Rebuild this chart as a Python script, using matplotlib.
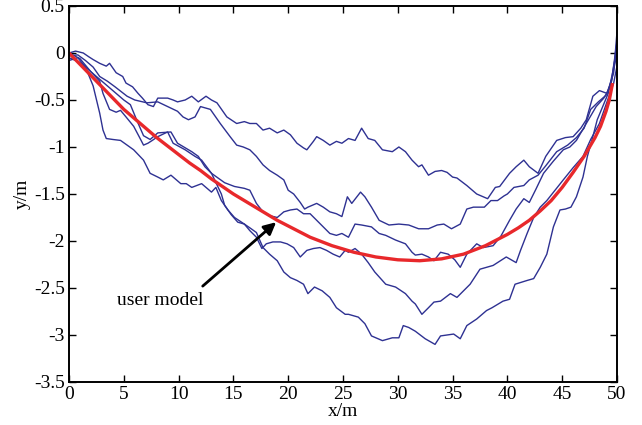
import numpy as np
import matplotlib
matplotlib.use("Agg")
import matplotlib.pyplot as plt

plt.rcParams['font.family'] = ['Liberation Serif', 'DejaVu Serif']
plt.rcParams['axes.unicode_minus'] = False

# five simulated tracks
a_x = [0, 0.6, 1.3, 1.8, 2.2, 2.8, 3.4, 3.7, 4.3, 4.9, 5.2, 5.8, 6.3, 6.7, 7.2, 7.7, 8.1, 9.0, 9.5, 9.9,
       10.6, 11.2, 11.8, 12.5, 13.0, 13.5, 14.4, 15.3, 16.0, 16.5, 17.1, 17.7, 18.3, 19.0, 19.6, 20.2,
       20.8, 21.4, 21.7, 22.3, 22.6, 23.2, 23.8, 24.4, 24.9, 25.5, 26.1, 26.7, 27.3, 27.9, 28.6, 29.5,
       30.1, 30.7, 31.3, 31.9, 32.2, 32.8, 33.4, 34.0, 34.5, 35.0, 35.4, 36.3, 37.2, 38.2, 38.9, 39.3,
       40.2, 40.8, 41.5, 42.0, 42.8, 43.5, 44.5, 45.3, 46.0, 46.7, 47.2, 47.8, 48.4, 49.1, 49.7, 50.0]
a_y = [0, 0.02, 0.0, -0.04, -0.07, -0.11, -0.14, -0.11, -0.21, -0.25, -0.32, -0.36, -0.43, -0.48, -0.55,
       -0.57, -0.48, -0.48, -0.5, -0.52, -0.5, -0.46, -0.52, -0.46, -0.5, -0.53, -0.68, -0.75, -0.73,
       -0.75, -0.75, -0.82, -0.80, -0.85, -0.82, -0.87, -0.96, -1.01, -1.03, -0.94, -0.89, -0.93, -0.98,
       -0.94, -0.96, -0.91, -0.93, -0.80, -0.91, -0.93, -1.03, -1.05, -1.00, -1.05, -1.14, -1.21, -1.19,
       -1.30, -1.26, -1.25, -1.27, -1.32, -1.33, -1.41, -1.50, -1.55, -1.43, -1.42, -1.28, -1.21, -1.14,
       -1.21, -1.28, -1.10, -0.93, -0.90, -0.89, -0.80, -0.71, -0.46, -0.40, -0.43, -0.21, 0.22]

b_x = [0, 0.8, 1.5, 2.2, 2.8, 3.5, 4.2, 5.3, 6.0, 7.1, 8.1, 9.0, 9.9, 10.4, 10.9, 11.5, 12.0, 12.9, 13.8,
       14.7, 15.3, 15.9, 16.5, 17.1, 17.7, 18.3, 19.0, 19.6, 20.0, 20.5, 21.1, 21.5, 21.8, 22.6, 23.2,
       23.8, 24.4, 24.9, 25.4, 25.8, 26.6, 27.0, 27.6, 28.3, 29.2, 30.1, 31.0, 31.9, 32.8, 33.6, 34.2,
       34.9, 35.7, 36.3, 36.9, 37.9, 38.5, 39.1, 39.7, 40.0, 40.6, 41.5, 42.0, 42.8, 43.5, 44.5, 45.5,
       46.3, 47.0, 47.6, 48.3, 49.0, 49.5, 50.0]
b_y = [-0.03, -0.02, -0.08, -0.15, -0.25, -0.30, -0.36, -0.46, -0.50, -0.53, -0.52, -0.57, -0.62, -0.68,
       -0.71, -0.68, -0.57, -0.60, -0.75, -0.89, -0.98, -1.00, -1.03, -1.10, -1.19, -1.25, -1.30, -1.35,
       -1.46, -1.50, -1.59, -1.66, -1.64, -1.60, -1.64, -1.69, -1.71, -1.74, -1.53, -1.60, -1.48, -1.53,
       -1.64, -1.78, -1.83, -1.82, -1.83, -1.87, -1.87, -1.83, -1.82, -1.87, -1.82, -1.66, -1.64, -1.64,
       -1.57, -1.57, -1.52, -1.50, -1.43, -1.41, -1.35, -1.30, -1.20, -1.05, -0.98, -0.90, -0.80, -0.60,
       -0.52, -0.45, -0.30, 0.12]

c_x = [0, 1.0, 2.0, 2.8, 3.1, 3.7, 4.3, 4.7, 5.2, 5.9, 6.4, 6.8, 7.2, 7.6, 8.1, 9.0, 9.5, 10.6, 11.5, 12.1,
       13.0, 13.6, 14.2, 15.1, 16.0, 16.5, 17.1, 17.7, 18.3, 19.0, 19.6, 20.2, 20.8, 21.4, 22.0, 22.6,
       23.2, 23.8, 24.4, 24.9, 25.5, 26.1, 26.7, 27.6, 28.3, 28.9, 29.8, 30.7, 31.3, 31.6, 32.2, 32.8,
       33.3, 33.9, 34.6, 35.2, 35.7, 36.3, 37.2, 37.8, 38.7, 39.4, 40.2, 40.8, 41.5, 42.0, 42.6, 43.3,
       44.2, 45.1, 45.7, 46.3, 47.2, 48.1, 48.8, 49.4, 50.0]
c_y = [0, -0.06, -0.20, -0.30, -0.43, -0.60, -0.63, -0.61, -0.68, -0.78, -0.89, -0.98, -0.96, -0.93,
       -0.89, -0.84, -0.96, -1.03, -1.10, -1.14, -1.28, -1.33, -1.38, -1.42, -1.44, -1.46, -1.60, -1.69,
       -1.73, -1.75, -1.69, -1.67, -1.66, -1.71, -1.71, -1.78, -1.85, -1.92, -1.94, -1.92, -1.96, -1.82,
       -1.83, -1.85, -1.92, -1.94, -1.99, -2.03, -2.12, -2.15, -2.14, -2.17, -2.21, -2.12, -2.14, -2.20,
       -2.28, -2.14, -2.03, -2.07, -2.05, -1.95, -1.78, -1.66, -1.55, -1.59, -1.45, -1.28, -1.15, -1.03,
       -1.00, -0.93, -0.75, -0.57, -0.48, -0.36, 0.0]

d_x = [0, 1.0, 2.0, 3.0, 4.0, 5.0, 5.6, 6.2, 6.8, 7.4, 8.1, 9.3, 9.9, 11.2, 11.8, 12.4, 13.0, 13.9, 14.2,
       14.8, 15.4, 16.0, 16.5, 17.1, 17.6, 18.0, 18.6, 19.3, 19.9, 20.5, 21.1, 21.7, 22.3, 22.9, 23.5,
       24.1, 24.7, 25.2, 25.5, 26.1, 26.7, 27.3, 27.9, 28.9, 29.8, 30.7, 31.3, 31.6, 32.2, 32.8, 33.3,
       33.9, 34.8, 35.4, 36.6, 37.5, 38.7, 39.9, 40.8, 41.2, 41.8, 42.4, 43.0, 43.6, 45.1, 46.0, 46.9,
       47.6, 48.4, 49.0, 49.7, 50.0]
d_y = [-0.05, -0.10, -0.20, -0.30, -0.40, -0.50, -0.55, -0.72, -0.88, -0.92, -0.85, -0.84, -0.96, -1.05,
       -1.10, -1.21, -1.28, -1.50, -1.62, -1.72, -1.80, -1.82, -1.89, -1.96, -2.08, -2.03, -2.01, -2.01,
       -2.03, -2.07, -2.17, -2.10, -2.08, -2.07, -2.10, -2.14, -2.17, -2.10, -2.12, -2.08, -2.14, -2.23,
       -2.33, -2.46, -2.49, -2.56, -2.64, -2.67, -2.78, -2.71, -2.65, -2.64, -2.56, -2.60, -2.46, -2.30,
       -2.26, -2.17, -2.23, -2.10, -1.92, -1.75, -1.64, -1.57, -1.35, -1.22, -1.10, -0.92, -0.75, -0.55,
       -0.32, -0.14]

e_x = [0, 0.8, 1.5, 2.2, 2.8, 3.1, 3.4, 4.0, 4.7, 5.3, 5.9, 6.8, 7.4, 8.1, 8.6, 9.3, 10.2, 10.7, 11.2,
       12.1, 13.0, 13.4, 13.9, 14.5, 15.1, 16.0, 16.5, 17.1, 17.7, 18.3, 19.0, 19.6, 20.2, 20.8, 21.4,
       21.8, 22.4, 23.1, 23.8, 24.4, 25.2, 25.5, 26.4, 27.0, 27.6, 28.6, 29.5, 30.1, 30.5, 31.0, 31.6,
       32.5, 33.4, 33.9, 35.1, 35.7, 36.3, 37.2, 38.1, 38.6, 39.6, 40.2, 40.7, 41.8, 42.4, 43.0, 43.6,
       44.2, 44.8, 45.3, 45.8, 46.3, 46.9, 47.3, 47.8, 48.2, 48.7, 49.2, 49.6, 50.0]
e_y = [-0.08, -0.05, -0.15, -0.35, -0.64, -0.82, -0.91, -0.92, -0.93, -0.98, -1.03, -1.14, -1.28, -1.32,
       -1.35, -1.30, -1.39, -1.39, -1.43, -1.39, -1.48, -1.43, -1.57, -1.67, -1.75, -1.82, -1.86, -1.91,
       -2.07, -2.14, -2.21, -2.33, -2.39, -2.42, -2.46, -2.56, -2.49, -2.53, -2.60, -2.71, -2.78, -2.78,
       -2.81, -2.88, -3.01, -3.06, -3.03, -3.03, -2.90, -2.92, -2.96, -3.04, -3.10, -3.01, -2.99, -3.04,
       -2.90, -2.83, -2.74, -2.71, -2.64, -2.62, -2.46, -2.42, -2.40, -2.28, -2.14, -1.85, -1.67, -1.66,
       -1.64, -1.53, -1.32, -1.10, -0.89, -0.71, -0.57, -0.43, -0.21, 0.05]

# user model curve
model_x = [0, 1, 2, 3, 4, 5, 6, 7, 8, 9, 10, 11, 12, 13, 14, 15, 16, 17, 18, 19, 20, 22, 24, 26, 28, 30,
           32, 34, 36, 38, 40, 41, 42, 43, 44, 45, 46, 47, 48, 48.5, 49, 49.3, 49.6]
model_y = [0, -0.12, -0.24, -0.36, -0.48, -0.6, -0.7, -0.8, -0.9, -0.99, -1.08, -1.17, -1.25, -1.34,
           -1.42, -1.5, -1.57, -1.64, -1.71, -1.78, -1.84, -1.96, -2.05, -2.12, -2.17, -2.2, -2.21, -2.19,
           -2.14, -2.05, -1.93, -1.86, -1.78, -1.68, -1.57, -1.43, -1.27, -1.1, -0.9, -0.78, -0.62, -0.5,
           -0.32]

fig = plt.figure(figsize=(6.42, 4.25), dpi=100)
ax = fig.add_axes([0.1075, 0.1012, 0.8535, 0.8847])

blue = '#2e3192'
for xs, ys in [(a_x, a_y), (b_x, b_y), (c_x, c_y), (d_x, d_y), (e_x, e_y)]:
    ax.plot(xs, ys, color=blue, lw=1.0)
ax.plot(model_x, model_y, color='#e8282b', lw=2.4, solid_capstyle='butt')

ax.annotate('', xy=(18.9, -1.8), xytext=(12.2, -2.48),
            arrowprops=dict(arrowstyle='-|>', color='k', lw=2, mutation_scale=18, shrinkA=0, shrinkB=0))
ax.text(8.3, -2.63, 'user model', ha='center', va='center', fontsize=14)

ax.set_xlim(0, 50)
ax.set_ylim(-3.5, 0.5)
ax.set_xticks(np.arange(0, 51, 5))
ax.set_yticks(np.arange(-3.5, 0.51, 0.5))
ax.set_yticklabels(['%g' % v for v in np.arange(-3.5, 0.51, 0.5)])
ax.tick_params(direction='in', top=True, right=True, length=5, width=1, labelsize=14, pad=3)
for s in ax.spines.values():
    s.set_linewidth(1.4)
ax.set_xlabel('x/m', fontsize=14, labelpad=0)
ax.set_ylabel('y/m', fontsize=14, labelpad=2)

fig.savefig('out.png', dpi=100)
